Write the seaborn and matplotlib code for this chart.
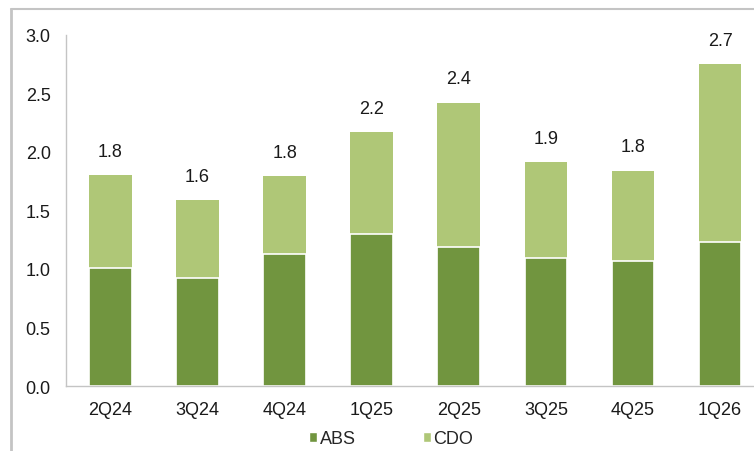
import matplotlib
matplotlib.use("Agg")
import matplotlib.pyplot as plt
from matplotlib.patches import Patch
from matplotlib.lines import Line2D
import pandas as pd
import seaborn as sns

# values
quarters = ["2Q24", "3Q24", "4Q24", "1Q25", "2Q25", "3Q25", "4Q25", "1Q26"]
abs_vals = [1.01, 0.92, 1.13, 1.30, 1.19, 1.09, 1.07, 1.23]
cdo_vals = [0.79, 0.67, 0.66, 0.87, 1.23, 0.82, 0.77, 1.52]
total_labels = ["1.8", "1.6", "1.8", "2.2", "2.4", "1.9", "1.8", "2.7"]

abs_color = "#71953f"
cdo_color = "#afc777"
grid_gray = "#c4c4c4"

sns.set_style("white")
plt.rcParams["font.family"] = ["Liberation Sans", "DejaVu Sans"]

df = pd.DataFrame({"quarter": quarters, "ABS": abs_vals, "CDO": cdo_vals})
df["total"] = df["ABS"] + df["CDO"]

fig = plt.figure(figsize=(7.54, 4.52), dpi=100)
ax = fig.add_axes([0.0875, 0.1438, 0.9125, 0.777])

# stacked bars: total in light green, ABS on top of it in dark green
sns.barplot(data=df, x="quarter", y="total", color=cdo_color, width=0.49,
            edgecolor="white", linewidth=0, saturation=1, ax=ax)
sns.barplot(data=df, x="quarter", y="ABS", color=abs_color, width=0.49,
            edgecolor="white", linewidth=1.2, saturation=1, ax=ax)

for i, (tot, lab) in enumerate(zip(df["total"], total_labels)):
    ax.annotate(lab, (i, tot), xytext=(0, 11), textcoords="offset points",
                ha="center", va="bottom", fontsize=13, color="#1a1a1a")

ax.set_ylim(0, 3.0)
ax.set_yticks([0, 0.5, 1.0, 1.5, 2.0, 2.5, 3.0])
ax.set_yticklabels([f"{v:.1f}" for v in ax.get_yticks()])
ax.set_xlim(-0.51, 7.39)
ax.set_xlabel("")
ax.set_ylabel("")
ax.tick_params(axis="both", length=0, labelsize=13, colors="#1a1a1a")
ax.tick_params(axis="y", pad=11)
ax.tick_params(axis="x", pad=11)

for s in ["top", "right"]:
    ax.spines[s].set_visible(False)
for s in ["left", "bottom"]:
    ax.spines[s].set_color(grid_gray)
    ax.spines[s].set_linewidth(1)

handles = [Patch(facecolor=abs_color, label="ABS"),
           Patch(facecolor=cdo_color, label="CDO")]
fig.legend(handles=handles, loc="center", bbox_to_anchor=(0.519, 0.027),
           ncol=2, frameon=False, fontsize=13, handlelength=0.45,
           handleheight=0.45, handletextpad=0.15, columnspacing=3.7)

# frame lines of the surrounding box
fig.add_artist(Line2D([0.014, 1.0], [0.978, 0.978], color=grid_gray, lw=1.5))
fig.add_artist(Line2D([0.014, 0.014], [0.0, 0.978], color=grid_gray, lw=2))

fig.savefig("out.png", dpi=100)
